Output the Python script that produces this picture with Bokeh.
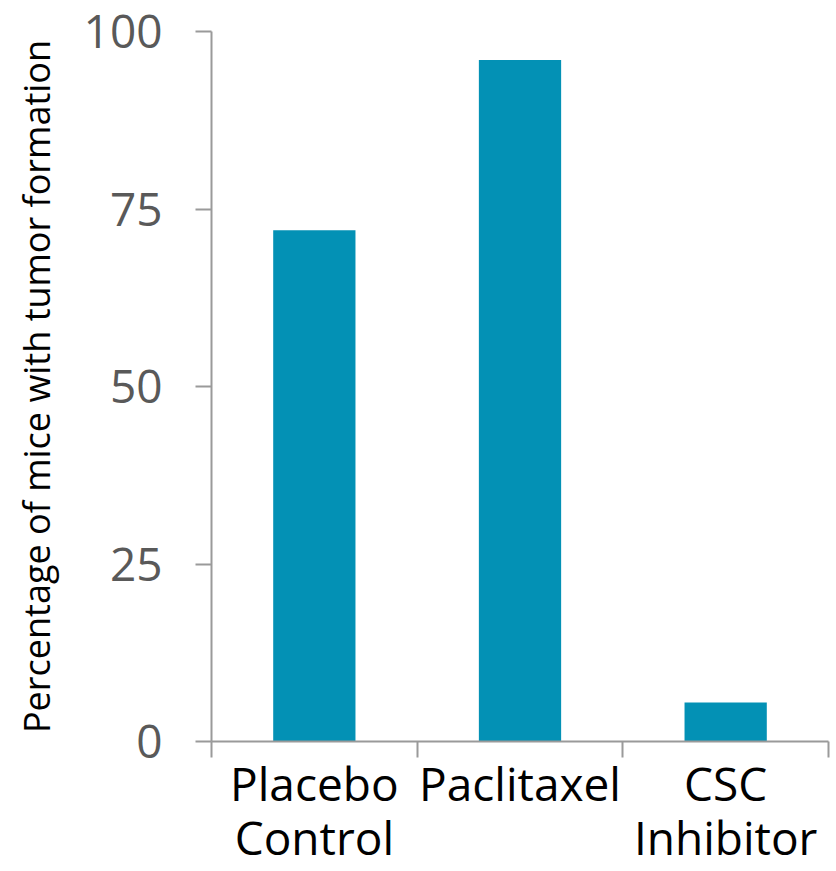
import numpy as np
from bokeh.plotting import figure
from bokeh.models import FixedTicker, Range1d, ColumnDataSource
from bokeh.embed import file_html
from bokeh.resources import INLINE

# Data
categories = ["Placebo\nControl", "Paclitaxel", "CSC\nInhibitor"]
tumor_pct = [72, 96, 5.5]
y_ticks = [0, 25, 50, 75, 100]
y_title = "Percentage of mice with tumor formation"

FONT = "Open Sans"
AXIS_GREY = "#9a9a9a"
BAR_COLOR = "#0391b5"

centers = np.arange(len(categories)) + 0.5
source = ColumnDataSource(dict(x=centers, top=tumor_pct))

p = figure(
    width=836, height=871,
    x_range=Range1d(0, len(categories)),
    y_range=Range1d(0, 100),
    output_backend="svg", toolbar_location=None,
    min_border_left=211, min_border_right=8,
    min_border_top=31, min_border_bottom=130,
)
p.outline_line_color = None
p.grid.visible = False
p.background_fill_color = "white"
p.border_fill_color = "white"

p.vbar(x="x", top="top", width=0.4, bottom=0, source=source,
       fill_color=BAR_COLOR, line_color=None)

# x axis: labels at category centres, tick marks at category boundaries
xa = p.xaxis[0]
xa.ticker = FixedTicker(ticks=list(centers),
                        minor_ticks=list(range(len(categories) + 1)))
xa.major_label_overrides = {float(c): lab for c, lab in zip(centers, categories)}
xa.major_tick_line_color = None
xa.major_tick_out = 0
xa.major_tick_in = 0
xa.minor_tick_line_color = AXIS_GREY
xa.minor_tick_line_width = 2
xa.minor_tick_out = 16
xa.minor_tick_in = 0
xa.axis_line_color = AXIS_GREY
xa.axis_line_width = 2
xa.major_label_standoff = -6
xa.major_label_text_font = FONT
xa.major_label_text_font_size = "46px"
xa.major_label_text_color = "black"
xa.major_label_text_line_height = 0.88

# y axis
ya = p.yaxis[0]
ya.ticker = FixedTicker(ticks=y_ticks)
ya.minor_tick_line_color = None
ya.major_tick_line_color = AXIS_GREY
ya.major_tick_line_width = 2
ya.major_tick_out = 16
ya.major_tick_in = 0
ya.axis_line_color = AXIS_GREY
ya.axis_line_width = 2
ya.major_label_standoff = 33
ya.major_label_text_font = FONT
ya.major_label_text_font_size = "46px"
ya.major_label_text_color = "#595959"
ya.axis_label = y_title
ya.axis_label_standoff = 20
ya.axis_label_text_font = FONT
ya.axis_label_text_font_size = "36px"
ya.axis_label_text_font_style = "normal"
ya.axis_label_text_color = "black"

open("out.html", "w").write(file_html(p, INLINE))
